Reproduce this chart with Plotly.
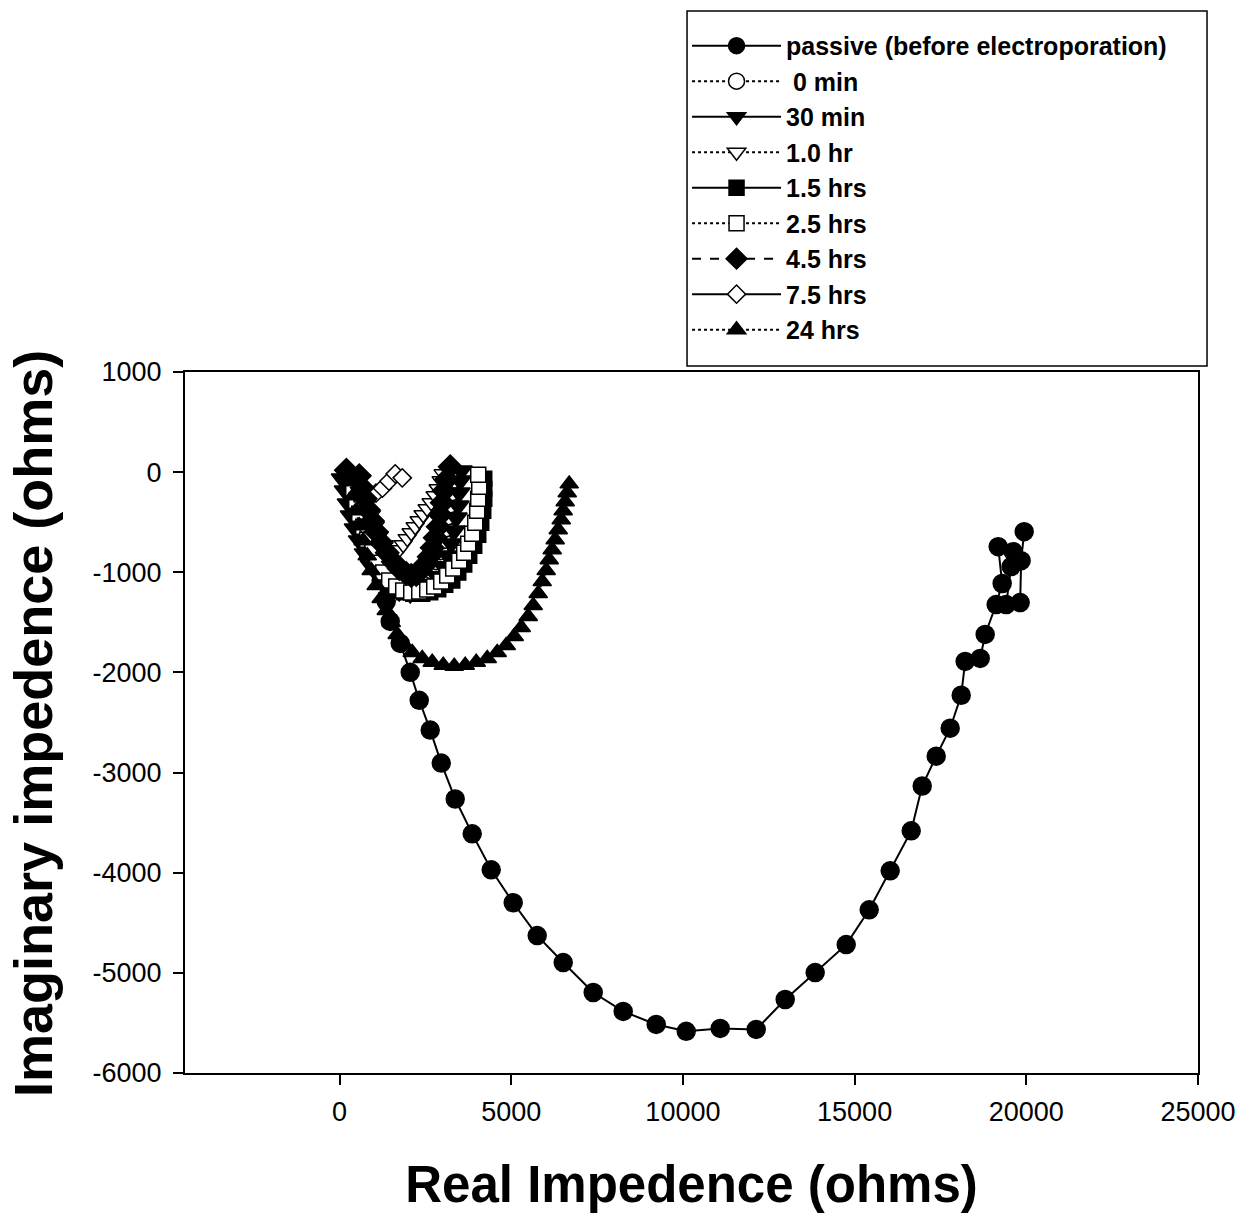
import plotly.graph_objects as go

# Nyquist data: real (x) and imaginary (y) impedance in ohms
passive_x = [399, 486, 632, 807, 1010, 1214, 1360, 1476, 1768, 2059, 2321, 2641, 2962, 3369,
             3864, 4417, 5058, 5757, 6514, 7388, 8261, 9222, 10096, 11086, 12134, 12979, 13852,
             14755, 15425, 16036, 16648, 16968, 17376, 17783, 18104, 18220, 18657, 18802, 19122,
             19297, 19181, 19617, 19559, 19413, 19821, 19850, 19938]
passive_y = [-47, -216, -416, -635, -864, -1083, -1292, -1491, -1710, -1999, -2278, -2576, -2905,
             -3264, -3612, -3971, -4300, -4628, -4897, -5196, -5385, -5515, -5584, -5555, -5565,
             -5266, -4997, -4718, -4370, -3981, -3582, -3134, -2836, -2557, -2228, -1890, -1860,
             -1621, -1322, -1112, -744, -794, -943, -1322, -1302, -884, -595]

min0_x = [341, 428, 515, 603, 719, 836, 981, 1156, 1360, 1593, 1826, 2059, 2292, 2495, 2670,
          2816, 2932, 3020, 3107, 3165, 3224, 3253, 3282, 3311]
min0_y = [-47, -166, -286, -405, -525, -645, -764, -874, -973, -1053, -1103, -1123, -1103,
          -1053, -983, -894, -794, -684, -565, -445, -326, -206, -87, 13]

min30_x = [79, 166, 253, 341, 457, 574, 748, 923, 1156, 1447, 1738, 2059, 2379, 2641, 2845,
           3020, 3165, 3253, 3340, 3398, 3457, 3486, 3515, 3544]
min30_y = [-67, -186, -316, -435, -565, -684, -814, -933, -1043, -1133, -1192, -1212, -1182,
           -1123, -1043, -943, -834, -714, -585, -455, -336, -206, -87, 13]

hr1_x = [632, 719, 807, 923, 1040, 1156, 1302, 1447, 1593, 1738, 1855, 1971, 2088, 2204, 2321,
         2437, 2554, 2670, 2787, 2874, 2962, 3020]
hr1_y = [-67, -186, -306, -425, -535, -635, -724, -784, -804, -774, -724, -664, -605, -545,
         -485, -425, -366, -306, -236, -166, -87, -17]

hr15_x = [341, 428, 515, 632, 748, 894, 1040, 1214, 1418, 1651, 1884, 2146, 2408, 2641, 2874,
          3078, 3282, 3457, 3631, 3777, 3922, 4039, 4126, 4185, 4214, 4214, 4214]
hr15_y = [-117, -246, -385, -525, -664, -794, -923, -1033, -1123, -1180, -1200, -1215, -1215,
          -1200, -1170, -1125, -1083, -1003, -923, -834, -734, -625, -505, -385, -266, -166, -67]

hr25_x = [399, 486, 574, 690, 807, 952, 1098, 1272, 1447, 1651, 1855, 2088, 2321, 2554, 2758,
          2962, 3136, 3311, 3486, 3631, 3748, 3864, 3952, 4010, 4039, 4068, 4039]
hr25_y = [-166, -286, -415, -545, -674, -794, -904, -1003, -1083, -1143, -1182, -1202, -1192,
          -1172, -1143, -1093, -1033, -963, -884, -804, -714, -615, -505, -385, -266, -146, -27]

hr45_x = [200, 574, 661, 748, 836, 952, 1069, 1214, 1389, 1564, 1738, 1942, 2088, 2234, 2350,
          2495, 2612, 2699, 2787, 2874, 2932, 2991, 3049, 3107, 3224]
hr45_y = [20, -37, -156, -266, -375, -485, -595, -704, -804, -894, -963, -1013, -1033, -1023,
          -983, -923, -844, -754, -654, -545, -425, -306, -186, -77, 53]

hr75_x = [430, 640, 860, 1060, 1250, 1440, 1622, 1826]
hr75_y = [-120, -200, -230, -210, -160, -90, -17, -57]

hr24_x = [341, 399, 486, 574, 690, 807, 923, 1069, 1214, 1360, 1505, 1680, 1884, 2117, 2408,
          2699, 3020, 3340, 3660, 3981, 4301, 4592, 4854, 5087, 5291, 5495, 5640, 5786, 5903,
          6019, 6107, 6194, 6281, 6369, 6456, 6514, 6572, 6631, 6689]
hr24_y = [-97, -236, -385, -535, -684, -834, -983, -1132, -1262, -1382, -1501, -1621, -1720,
          -1800, -1860, -1899, -1929, -1939, -1929, -1899, -1860, -1800, -1730, -1640, -1551,
          -1441, -1332, -1212, -1093, -983, -874, -774, -674, -575, -475, -385, -296, -206, -117]

x_ticks = [0, 5000, 10000, 15000, 20000, 25000]
x_tick_text = ["0", "5000", "10000", "15000", "20000", "25000"]
y_ticks = [-6000, -5000, -4000, -3000, -2000, -1000, 0, 1000]
y_tick_text = ["-6000", "-5000", "-4000", "-3000", "-2000", "-1000", "0", "1000"]

FONT = "Liberation Sans, Arial, sans-serif"

# (legend label, x, y, symbol, fill, line dash, marker size, legend position)
# listed in drawing order (later traces sit on top)
series = [
    ("passive (before electroporation)", passive_x, passive_y, "circle", "black", "solid", 18, 1),
    (" 0 min", min0_x, min0_y, "circle", "white", "dot", 16, 2),
    ("7.5 hrs", hr75_x, hr75_y, "diamond", "white", "solid", 14, 8),
    ("1.0 hr", hr1_x, hr1_y, "triangle-down", "white", "dot", 16, 4),
    ("30 min", min30_x, min30_y, "triangle-down", "black", "solid", 19, 3),
    ("1.5 hrs", hr15_x, hr15_y, "square", "black", "solid", 15, 5),
    ("2.5 hrs", hr25_x, hr25_y, "square", "white", "dot", 15, 6),
    ("4.5 hrs", hr45_x, hr45_y, "diamond", "black", "dash", 18, 7),
    ("24 hrs", hr24_x, hr24_y, "triangle-up", "black", "dot", 16, 9),
]

fig = go.Figure()
for name, xs, ys, sym, fill, dash, size, rank in series:
    fig.add_trace(go.Scatter(
        x=xs, y=ys, name=name, mode="lines+markers", legendrank=rank,
        line=dict(color="black", width=2, dash=dash),
        marker=dict(symbol=sym, size=size, color=fill,
                    line=dict(color="black", width=1.5)),
    ))

axis_common = dict(
    showgrid=False, zeroline=False, showline=True, linecolor="black", linewidth=2,
    mirror=True, ticks="outside", ticklen=10, tickwidth=2, tickcolor="black",
    tickfont=dict(family=FONT, size=27, color="black"),
)

fig.update_layout(
    width=1251, height=1215,
    margin=dict(l=185, r=53, t=372, b=140),
    paper_bgcolor="white", plot_bgcolor="white",
    font=dict(family=FONT, color="black"),
    xaxis=dict(range=[-4500, 25000], tickvals=x_ticks, ticktext=x_tick_text,
               ticklabelstandoff=4,
               title=dict(text="<b>Real Impedence (ohms)</b>",
                          font=dict(family=FONT, size=51), standoff=40),
               **axis_common),
    yaxis=dict(range=[-6000, 1000], tickvals=y_ticks, ticktext=y_tick_text,
               ticklabelstandoff=6,
               **axis_common),
    legend=dict(
        x=0.4956, y=1.498, xanchor="left", yanchor="top",
        bgcolor="rgba(0,0,0,0)", borderwidth=0,
        font=dict(family=FONT, size=25, color="black", weight="bold"),
        itemwidth=89, traceorder="normal",
    ),
    showlegend=True,
    annotations=[dict(
        text="<b>Imaginary impedence (ohms)</b>", textangle=-90,
        xref="paper", yref="paper", x=-0.150, y=0.498,
        xanchor="center", yanchor="middle", showarrow=False,
        font=dict(family=FONT, size=54, color="black"),
    )],
    shapes=[dict(
        type="rect", xref="paper", yref="paper",
        x0=0.4956, x1=1.0089, y0=1.0085, y1=1.515,
        line=dict(color="black", width=1.5), fillcolor="white", layer="below",
    )],
)

fig.write_html("out.html")
